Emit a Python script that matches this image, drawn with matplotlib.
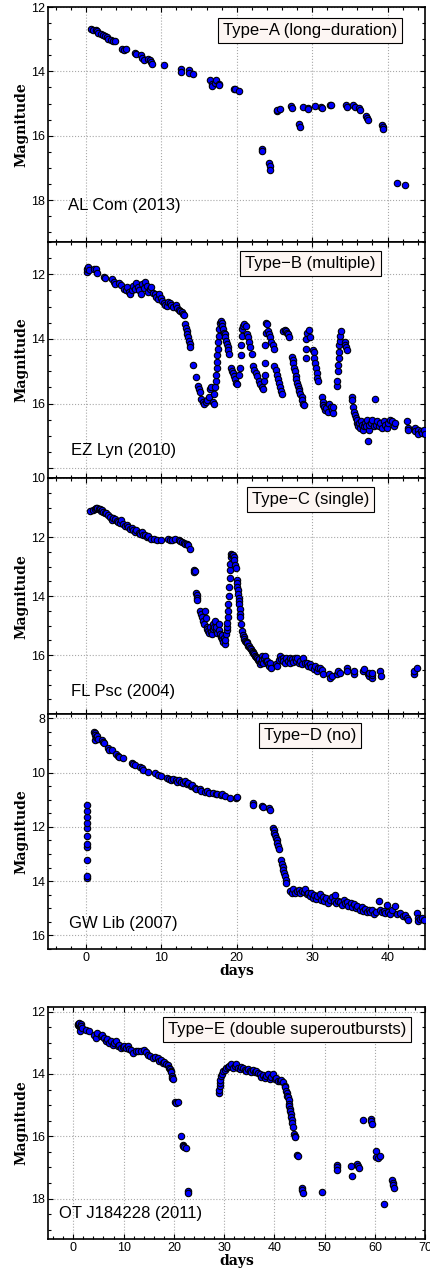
import matplotlib
matplotlib.use("Agg")
import matplotlib.pyplot as plt
from matplotlib.ticker import MultipleLocator

plt.rcParams['font.family'] = ['Liberation Sans', 'DejaVu Sans']

# ---------------- data (days since outburst, magnitude) ----------------
alcom_day = [0.66, 0.9, 1.3, 1.5, 1.65, 2.0, 2.3, 2.5, 2.75, 3.0,
             3.3, 3.55, 3.85, 4.8, 5.0, 5.3, 6.5, 6.6, 7.3, 7.5,
             7.65, 8.3, 8.45, 8.7, 8.75, 10.3, 12.6, 12.6, 13.7, 13.7,
             14.25, 16.4, 16.7, 16.75, 17.1, 17.3, 17.65, 17.7, 19.6, 19.8,
             20.3, 23.3, 23.35, 24.3, 24.4, 24.35, 25.3, 25.4, 25.75, 27.2,
             27.35, 28.3, 28.4, 28.8, 29.4, 29.45, 30.4, 31.2, 31.35, 32.4,
             32.5, 34.45, 34.6, 35.4, 35.7, 36.2, 36.35, 37.2, 37.3, 37.4,
             39.2, 39.35, 39.4, 41.3, 42.3]
alcom_mag = [12.67, 12.70, 12.72, 12.76, 12.80, 12.83, 12.87, 12.90, 12.94, 12.98,
             13.03, 13.06, 13.06, 13.31, 13.32, 13.31, 13.43, 13.46, 13.50, 13.57,
             13.65, 13.60, 13.66, 13.72, 13.76, 13.80, 13.93, 14.02, 13.96, 14.04,
             14.08, 14.27, 14.40, 14.46, 14.35, 14.27, 14.38, 14.43, 14.54, 14.56,
             14.62, 16.40, 16.46, 16.85, 16.95, 17.06, 15.22, 15.20, 15.16, 15.08,
             15.14, 15.64, 15.72, 15.10, 15.13, 15.17, 15.06, 15.10, 15.14, 15.05,
             15.03, 15.04, 15.12, 15.03, 15.10, 15.13, 15.19, 15.39, 15.45, 15.52,
             15.67, 15.72, 15.79, 17.47, 17.54]

ezlyn_day = [0.1, 0.15, 0.25, 0.35, 1.1, 1.3, 1.5, 2.4, 2.6, 3.5,
             3.7, 3.9, 4.4, 4.6, 5.1, 5.3, 5.5, 5.7, 5.9, 6.1,
             6.3, 6.5, 6.7, 6.9, 7.1, 7.3, 7.5, 7.7, 7.9, 8.1,
             8.3, 8.5, 8.7, 8.9, 9.1, 9.3, 9.5, 9.7, 9.9, 10.1,
             10.3, 10.5, 10.7, 10.9, 11.1, 11.3, 11.6, 11.9, 12.1, 12.3,
             12.5, 12.7, 12.9, 13.05, 13.15, 13.25, 13.35, 13.45, 13.55, 13.65,
             13.75, 13.85, 14.25, 14.65, 14.85, 14.95, 15.1, 15.3, 15.5, 15.7,
             15.9, 16.1, 16.3, 16.5, 16.6, 16.8, 16.95, 17.05, 17.15, 17.25,
             17.3, 17.35, 17.4, 17.45, 17.5, 17.55, 17.6, 17.7, 17.8, 17.9,
             18.0, 18.1, 18.2, 18.3, 18.4, 18.5, 18.6, 18.7, 18.8, 18.9,
             19.0, 19.2, 19.35, 19.5, 19.65, 19.8, 19.95, 20.05, 20.3, 20.45,
             20.55, 20.6, 20.65, 20.7, 20.8, 20.9, 21.2, 21.4, 21.5, 21.6,
             21.8, 22.0, 22.1, 22.3, 22.5, 22.7, 22.9, 23.1, 23.3, 23.5,
             23.6, 23.7, 23.75, 23.8, 23.85, 23.9, 24.0, 24.2, 24.3, 24.4,
             24.6, 24.8, 24.9, 25.0, 25.15, 25.3, 25.45, 25.6, 25.75, 25.9,
             26.0, 26.2, 26.35, 26.5, 26.65, 26.8, 26.95, 27.3, 27.4, 27.5,
             27.6, 27.7, 27.8, 27.9, 28.0, 28.1, 28.2, 28.3, 28.45, 28.6,
             28.7, 28.8, 28.9, 29.15, 29.2, 29.25, 29.35, 29.55, 29.75, 30.1,
             30.2, 30.3, 30.4, 30.5, 30.6, 30.7, 30.8, 31.3, 31.4, 31.5,
             31.6, 31.7, 31.9, 32.1, 32.3, 32.5, 32.6, 32.7, 32.8, 33.3,
             33.35, 33.4, 33.45, 33.5, 33.55, 33.6, 33.65, 33.75, 33.85, 34.3,
             34.4, 34.5, 34.65, 35.25, 35.35, 35.45, 35.55, 35.65, 35.8, 35.9,
             36.0, 36.1, 36.25, 36.4, 36.5, 36.6, 36.7, 36.85, 37.0, 37.1,
             37.3, 37.4, 37.5, 37.6, 37.8, 38.0, 38.2, 38.4, 38.5, 38.6,
             38.8, 39.0, 39.2, 39.5, 39.7, 39.9, 40.1, 40.35, 40.6, 40.8,
             41.0, 42.6, 42.65, 42.7, 43.6, 43.7, 44.0, 44.1, 44.4, 44.6,
             44.8, 44.95]
ezlyn_mag = [11.93, 11.85, 11.78, 11.88, 11.82, 11.85, 11.95, 12.07, 12.10, 12.15,
             12.25, 12.30, 12.27, 12.32, 12.45, 12.50, 12.40, 12.55, 12.62, 12.50,
             12.35, 12.45, 12.28, 12.40, 12.50, 12.60, 12.30, 12.42, 12.25, 12.35,
             12.55, 12.45, 12.40, 12.58, 12.60, 12.70, 12.75, 12.62, 12.72, 12.82,
             12.88, 12.95, 12.98, 12.85, 12.90, 12.95, 13.00, 12.95, 13.05, 13.10,
             13.12, 13.18, 13.22, 13.25, 13.55, 13.65, 13.75, 13.85, 13.95, 14.05,
             14.15, 14.25, 14.80, 15.18, 15.45, 15.55, 15.65, 15.85, 15.95, 16.00,
             15.95, 15.90, 15.80, 15.55, 15.50, 15.95, 16.00, 15.70, 15.50, 15.30,
             15.10, 14.90, 14.70, 14.50, 14.30, 14.10, 13.90, 13.70, 13.52, 13.45,
             13.50, 13.60, 13.70, 13.80, 13.85, 13.95, 14.05, 14.15, 14.25, 14.35,
             14.45, 14.90, 15.00, 15.05, 15.15, 15.25, 15.35, 15.40, 15.10, 14.90,
             14.50, 14.20, 13.90, 13.70, 13.60, 13.55, 13.60, 13.85, 13.95, 14.10,
             14.25, 14.45, 14.85, 14.95, 15.05, 15.15, 15.30, 15.40, 15.50, 15.55,
             15.30, 15.10, 14.75, 14.20, 13.80, 13.50, 13.55, 13.75, 13.85, 13.95,
             14.10, 14.20, 14.30, 14.85, 14.95, 15.10, 15.25, 15.35, 15.50, 15.60,
             15.70, 13.75, 13.72, 13.75, 13.80, 13.85, 13.95, 14.55, 14.65, 14.75,
             14.90, 15.00, 15.15, 15.25, 15.35, 15.45, 15.55, 15.60, 15.70, 15.80,
             15.90, 16.00, 16.05, 14.60, 14.30, 14.00, 13.80, 13.72, 13.95, 14.35,
             14.40, 14.60, 14.75, 14.90, 15.05, 15.20, 15.30, 15.80, 15.95, 16.05,
             16.10, 16.20, 16.15, 16.25, 16.00, 16.10, 16.20, 16.30, 16.10, 15.45,
             15.30, 15.00, 14.80, 14.60, 14.40, 14.20, 14.05, 13.90, 13.75, 14.10,
             14.20, 14.25, 14.35, 15.80, 15.90, 16.10, 16.25, 16.35, 16.45, 16.60,
             16.50, 16.70, 16.60, 16.75, 16.55, 16.65, 16.80, 16.70, 16.60, 16.70,
             16.50, 17.15, 16.80, 16.65, 16.60, 16.50, 16.70, 15.85, 16.65, 16.55,
             16.70, 16.60, 16.75, 16.55, 16.65, 16.75, 16.60, 16.50, 16.55, 16.70,
             16.60, 16.55, 16.75, 16.80, 16.75, 16.85, 16.80, 16.95, 16.85, 16.90,
             16.80, 16.95]

flpsc_day = [0.6, 1.0, 1.2, 1.4, 1.5, 1.7, 1.86, 2.0, 2.1, 2.3,
             2.5, 2.65, 2.9, 3.2, 3.4, 3.6, 3.85, 4.1, 4.3, 4.5,
             4.7, 4.96, 5.2, 5.4, 5.6, 5.84, 6.1, 6.3, 6.5, 6.7,
             7.0, 7.2, 7.4, 7.6, 7.8, 8.05, 8.3, 8.7, 9.0, 9.4,
             10.0, 10.9, 11.2, 11.4, 11.8, 12.3, 12.5, 12.7, 13.0, 13.1,
             13.4, 13.6, 13.8, 14.3, 14.35, 14.5, 14.65, 14.7, 14.75, 14.8,
             15.1, 15.2, 15.35, 15.5, 15.7, 15.8, 15.9, 16.0, 16.1, 16.2,
             16.35, 16.5, 16.6, 16.7, 16.8, 16.9, 17.0, 17.1, 17.2, 17.3,
             17.45, 17.6, 17.7, 17.8, 17.9, 18.0, 18.1, 18.2, 18.3, 18.45,
             18.5, 18.6, 18.65, 18.7, 18.75, 18.8, 18.85, 18.9, 18.95, 19.0,
             19.05, 19.1, 19.15, 19.2, 19.3, 19.4, 19.5, 19.6, 19.7, 19.8,
             19.9, 20.0, 20.05, 20.1, 20.15, 20.2, 20.25, 20.3, 20.35, 20.4,
             20.45, 20.5, 20.6, 20.7, 20.8, 20.9, 21.0, 21.1, 21.2, 21.3,
             21.4, 21.5, 21.6, 21.8, 21.9, 22.0, 22.1, 22.2, 22.3, 22.4,
             22.5, 22.65, 22.8, 22.9, 23.0, 23.1, 23.2, 23.3, 23.4, 23.5,
             23.65, 23.8, 23.9, 24.0, 24.15, 24.3, 24.45, 24.6, 25.2, 25.3,
             25.6, 25.75, 25.9, 26.1, 26.2, 26.4, 26.6, 26.8, 27.0, 27.1,
             27.3, 27.5, 27.7, 27.9, 28.0, 28.2, 28.4, 28.6, 28.8, 29.0,
             29.3, 29.5, 29.7, 29.9, 30.2, 30.4, 30.6, 30.8, 31.1, 31.3,
             31.5, 32.3, 32.4, 32.6, 33.3, 33.4, 33.7, 34.6, 34.65, 35.5,
             35.55, 36.8, 36.85, 37.4, 37.5, 37.6, 37.9, 37.95, 38.0, 39.0,
             39.1, 43.45, 43.5, 43.9]
flpsc_mag = [11.12, 11.08, 11.04, 11.02, 11.00, 11.06, 11.04, 11.12, 11.10, 11.15,
             11.18, 11.20, 11.26, 11.32, 11.43, 11.35, 11.38, 11.45, 11.49, 11.52,
             11.43, 11.55, 11.62, 11.60, 11.66, 11.72, 11.70, 11.77, 11.82, 11.77,
             11.85, 11.89, 11.84, 11.94, 11.92, 12.00, 11.98, 12.06, 12.05, 12.09,
             12.11, 12.06, 12.09, 12.11, 12.06, 12.11, 12.14, 12.17, 12.20, 12.23,
             12.25, 12.28, 12.40, 13.10, 13.18, 13.16, 13.88, 13.95, 14.05, 14.12,
             14.50, 14.62, 14.72, 14.85, 14.95, 14.50, 14.75, 15.06, 15.12, 15.17,
             15.25, 15.06, 15.20, 15.29, 15.10, 14.95, 15.05, 14.83, 15.15, 15.06,
             15.25, 14.95, 15.15, 15.29, 15.38, 15.46, 15.30, 15.57, 15.42, 15.63,
             15.50, 15.29, 15.15, 15.06, 14.90, 14.72, 14.50, 14.27, 14.00, 13.70,
             13.40, 13.13, 12.90, 12.68, 12.57, 12.62, 12.60, 12.68, 12.79, 12.95,
             13.05, 13.47, 13.55, 13.70, 13.80, 13.93, 14.05, 14.15, 14.27, 14.45,
             14.60, 14.72, 14.95, 15.17, 15.30, 15.40, 15.45, 15.51, 15.55, 15.57,
             15.60, 15.68, 15.70, 15.74, 15.80, 15.85, 15.88, 15.91, 15.95, 16.02,
             16.05, 16.08, 16.15, 16.20, 16.12, 16.30, 16.22, 16.02, 16.15, 16.25,
             16.10, 16.02, 16.18, 16.20, 16.30, 16.37, 16.28, 16.42, 16.30, 16.38,
             16.15, 16.02, 16.12, 16.08, 16.20, 16.25, 16.10, 16.20, 16.08, 16.25,
             16.14, 16.22, 16.08, 16.18, 16.08, 16.25, 16.20, 16.30, 16.08, 16.25,
             16.25, 16.35, 16.30, 16.40, 16.48, 16.38, 16.54, 16.44, 16.42, 16.50,
             16.65, 16.62, 16.77, 16.70, 16.65, 16.55, 16.59, 16.42, 16.52, 16.65,
             16.55, 16.54, 16.46, 16.65, 16.72, 16.60, 16.77, 16.68, 16.60, 16.54,
             16.70, 16.65, 16.55, 16.42]

gwlib_day = [0.12, 0.13, 0.14, 0.15, 0.15, 0.16, 0.16, 0.17, 0.17, 0.18,
             0.19, 1.1, 1.15, 1.2, 1.25, 1.35, 1.5, 1.6, 2.1, 2.3,
             2.4, 2.95, 3.1, 3.4, 4.05, 4.2, 4.4, 4.95, 6.05, 6.2,
             6.5, 7.2, 7.4, 7.6, 8.3, 9.2, 9.6, 10.0, 10.8, 11.0,
             11.3, 11.5, 11.9, 12.1, 12.4, 12.6, 12.9, 13.1, 13.4, 13.6,
             14.0, 14.1, 14.5, 14.6, 15.1, 15.3, 15.8, 16.1, 16.3, 16.9,
             17.2, 17.4, 17.9, 18.1, 18.4, 19.1, 19.9, 20.1, 22.1, 22.2,
             23.3, 23.5, 24.3, 24.45, 24.8, 24.9, 25.0, 25.1, 25.2, 25.3,
             25.4, 25.5, 25.6, 25.9, 26.0, 26.1, 26.2, 26.3, 26.4, 26.5,
             26.6, 27.1, 27.3, 27.5, 27.7, 28.0, 28.2, 28.4, 28.6, 28.9,
             29.1, 29.3, 29.5, 29.7, 29.9, 30.1, 30.3, 30.5, 30.7, 31.0,
             31.2, 31.4, 31.6, 31.9, 32.1, 32.4, 32.6, 32.9, 33.05, 33.2,
             33.4, 33.7, 33.9, 34.2, 34.4, 34.6, 34.8, 35.1, 35.3, 35.5,
             35.8, 36.0, 36.3, 36.6, 36.8, 37.0, 37.3, 37.5, 37.7, 38.0,
             38.2, 38.5, 38.8, 39.0, 39.2, 39.5, 39.7, 39.9, 40.1, 40.35,
             40.6, 41.0, 41.3, 41.7, 42.0, 42.35, 42.6, 42.7, 43.9, 44.0,
             44.1, 44.3, 44.55, 44.8]
gwlib_mag = [13.88, 13.80, 13.22, 12.75, 12.62, 12.32, 12.05, 11.85, 11.65, 11.40,
             11.18, 8.49, 8.55, 8.80, 8.62, 8.70, 8.66, 8.75, 8.80, 8.88,
             8.92, 9.08, 9.15, 9.18, 9.30, 9.38, 9.42, 9.47, 9.63, 9.68,
             9.72, 9.78, 9.83, 9.90, 9.96, 10.02, 10.08, 10.14, 10.20, 10.24,
             10.27, 10.22, 10.26, 10.33, 10.28, 10.35, 10.38, 10.32, 10.43, 10.40,
             10.50, 10.47, 10.56, 10.60, 10.62, 10.66, 10.70, 10.68, 10.77, 10.75,
             10.80, 10.78, 10.84, 10.79, 10.88, 10.93, 10.95, 10.90, 11.12, 11.18,
             11.22, 11.25, 11.32, 11.38, 12.05, 12.12, 12.22, 12.30, 12.40, 12.50,
             12.60, 12.72, 12.82, 13.22, 13.35, 13.48, 13.60, 13.70, 13.82, 13.95,
             14.07, 14.35, 14.42, 14.30, 14.45, 14.38, 14.32, 14.45, 14.36, 14.40,
             14.30, 14.48, 14.42, 14.55, 14.45, 14.62, 14.50, 14.66, 14.55, 14.48,
             14.68, 14.60, 14.72, 14.62, 14.80, 14.70, 14.58, 14.75, 14.50, 14.82,
             14.72, 14.78, 14.88, 14.70, 14.82, 14.76, 14.92, 14.80, 14.95, 14.86,
             14.98, 14.90, 15.05, 14.95, 15.10, 15.02, 15.12, 15.06, 15.15, 15.08,
             15.20, 15.12, 14.75, 15.05, 15.15, 15.10, 15.18, 14.88, 15.15, 15.20,
             15.08, 14.93, 15.22, 15.18, 15.28, 15.24, 15.35, 15.42, 15.18, 15.35,
             15.48, 15.40, 15.36, 15.44]

otj_day = [0.9, 1.0, 1.1, 1.2, 1.3, 1.33, 1.46, 1.6, 1.8, 2.46,
           3.1, 4.1, 4.46, 4.8, 5.46, 5.8, 6.1, 6.45, 6.8, 7.1,
           7.5, 7.8, 8.1, 8.45, 8.8, 9.1, 9.45, 9.8, 10.1, 10.5,
           10.8, 11.1, 11.4, 11.8, 12.4, 12.9, 13.4, 14.1, 14.5, 14.8,
           15.3, 15.8, 16.3, 16.8, 17.1, 17.5, 17.8, 18.1, 18.4, 18.8,
           19.1, 19.3, 19.4, 19.5, 19.6, 19.7, 19.8, 20.2, 20.5, 20.8,
           21.4, 21.8, 21.9, 22.1, 22.4, 22.75, 22.9, 29.0, 29.05, 29.1,
           29.15, 29.2, 29.3, 29.5, 29.8, 30.1, 30.4, 30.7, 31.0, 31.4,
           31.7, 32.1, 32.4, 32.7, 33.1, 33.4, 33.7, 34.1, 34.4, 34.7,
           35.1, 35.4, 35.7, 36.1, 36.4, 36.7, 37.1, 37.4, 37.7, 38.1,
           38.4, 38.7, 39.1, 39.4, 39.7, 40.1, 40.4, 40.7, 41.05, 41.4,
           41.7, 42.05, 42.2, 42.4, 42.5, 42.6, 42.7, 42.8, 42.85, 42.95,
           43.05, 43.15, 43.25, 43.35, 43.4, 43.5, 43.6, 43.9, 44.0, 44.05,
           44.5, 44.6, 45.5, 45.55, 45.6, 49.5, 52.4, 52.45, 52.5, 55.3,
           55.5, 56.5, 56.55, 56.8, 57.55, 59.2, 59.25, 59.35, 60.2, 60.3,
           60.5, 61.0, 61.7, 63.4, 63.5, 63.6, 63.7]
otj_mag = [12.42, 12.38, 12.45, 12.37, 12.50, 12.61, 12.40, 12.46, 12.52, 12.58,
           12.63, 12.74, 12.85, 12.69, 12.79, 12.75, 12.85, 12.95, 12.88, 13.00,
           12.95, 13.06, 13.02, 12.95, 13.11, 13.08, 13.16, 13.12, 13.11, 13.18,
           13.11, 13.20, 13.22, 13.32, 13.27, 13.25, 13.27, 13.22, 13.30, 13.38,
           13.42, 13.48, 13.45, 13.48, 13.59, 13.55, 13.64, 13.62, 13.69, 13.72,
           13.80, 13.85, 13.90, 13.95, 14.06, 14.12, 14.17, 14.91, 14.92, 14.91,
           16.00, 16.29, 16.32, 16.34, 16.39, 17.77, 17.82, 14.62, 14.50, 14.40,
           14.30, 14.20, 14.06, 14.00, 13.92, 13.88, 13.80, 13.78, 13.74, 13.69,
           13.80, 13.75, 13.69, 13.82, 13.85, 13.78, 13.80, 13.88, 13.90, 13.84,
           13.90, 13.95, 13.88, 13.93, 13.90, 13.98, 14.01, 14.10, 14.03, 14.12,
           14.06, 14.00, 14.17, 14.10, 14.01, 14.17, 14.12, 14.22, 14.22, 14.20,
           14.27, 14.38, 14.42, 14.54, 14.62, 14.70, 14.75, 14.82, 14.96, 15.02,
           15.12, 15.20, 15.28, 15.38, 15.49, 15.58, 15.70, 15.92, 15.98, 16.02,
           16.60, 16.64, 17.66, 17.74, 17.82, 17.79, 16.92, 17.00, 17.08, 16.97,
           17.27, 16.88, 16.97, 17.03, 15.49, 15.44, 15.52, 15.60, 16.46, 16.66,
           16.70, 16.63, 18.19, 17.40, 17.50, 17.58, 17.66]

types = ['Type\u2212A (long\u2212duration)', 'Type\u2212B (multiple)', 'Type\u2212C (single)',
         'Type\u2212D (no)', 'Type\u2212E (double superoutbursts)']
names = ['AL Com (2013)', 'EZ Lyn (2010)', 'FL Psc (2004)', 'GW Lib (2007)', 'OT J184228 (2011)']
days = [alcom_day, ezlyn_day, flpsc_day, gwlib_day, otj_day]
mags = [alcom_mag, ezlyn_mag, flpsc_mag, gwlib_mag, otj_mag]

# ---------------- layout ----------------
L, W = 0.112, 0.877
rects = [[L, 0.8102, W, 0.1843],
         [L, 0.6251, W, 0.1851],
         [L, 0.4398, W, 0.1853],
         [L, 0.2557, W, 0.1841],
         [L, 0.0282, W, 0.1820]]
xlims = [(-5, 45)] * 4 + [(-5, 70)]
ylims = [(19.3, 12), (18.3, 11), (18, 10), (16.5, 7.85), (19.3, 11.85)]
yticks = [[12, 14, 16, 18], [12, 14, 16, 18], [10, 12, 14, 16, 18], [8, 10, 12, 14, 16], [12, 14, 16, 18]]
ylabs = [['12', '14', '16', '18'], ['12', '14', '16', ''], ['10', '12', '14', '16', ''],
         ['8', '10', '12', '14', '16'], ['12', '14', '16', '18']]
box_x = [0.695, 0.695, 0.695, 0.695, 0.633]
box_y = [0.90, 0.91, 0.91, 0.91, 0.905]
name_x = [0.052, 0.06, 0.06, 0.055, 0.03]
name_y = [0.157, 0.116, 0.096, 0.11, 0.112]

fig = plt.figure(figsize=(4.3, 12.75), dpi=100)

for i in range(5):
    ax = fig.add_axes(rects[i])
    ax.plot(days[i], mags[i], ls='none', marker='o', ms=4.6, mfc='blue', mec='black', mew=0.8,
            zorder=3)
    ax.set_xlim(*xlims[i])
    ax.set_ylim(*ylims[i])
    ax.xaxis.set_major_locator(MultipleLocator(10))
    ax.xaxis.set_minor_locator(MultipleLocator(2))
    ax.yaxis.set_minor_locator(MultipleLocator(0.5))
    ax.set_yticks(yticks[i])
    ax.set_yticklabels(ylabs[i])
    ax.tick_params(which='both', direction='in', top=True, right=True, width=0.8, labelsize=9, pad=2)
    ax.tick_params(which='major', length=3.5)
    ax.tick_params(which='minor', length=2.4)
    for s in ax.spines.values():
        s.set_linewidth(1.2)
    ax.grid(True, which='major', ls=':', color='#a8a8a8', lw=0.8, zorder=0)
    if i in (3, 4):
        ax.set_xlabel('days', family='DejaVu Serif', fontweight='bold', fontsize=10, labelpad=0)
    else:
        ax.tick_params(labelbottom=False)
    ax.set_ylabel('Magnitude', family='DejaVu Serif', fontweight='bold', fontsize=10, labelpad=2)
    ax.text(box_x[i], box_y[i], types[i], transform=ax.transAxes, ha='center', va='center',
            fontsize=12, bbox=dict(boxstyle='square,pad=0.3', fc='#fdf6f3', ec='black', lw=0.8),
            zorder=5)
    ax.text(name_x[i], name_y[i], names[i], transform=ax.transAxes, ha='left', va='center',
            fontsize=12, zorder=5)

fig.savefig('out.png', dpi=100)
